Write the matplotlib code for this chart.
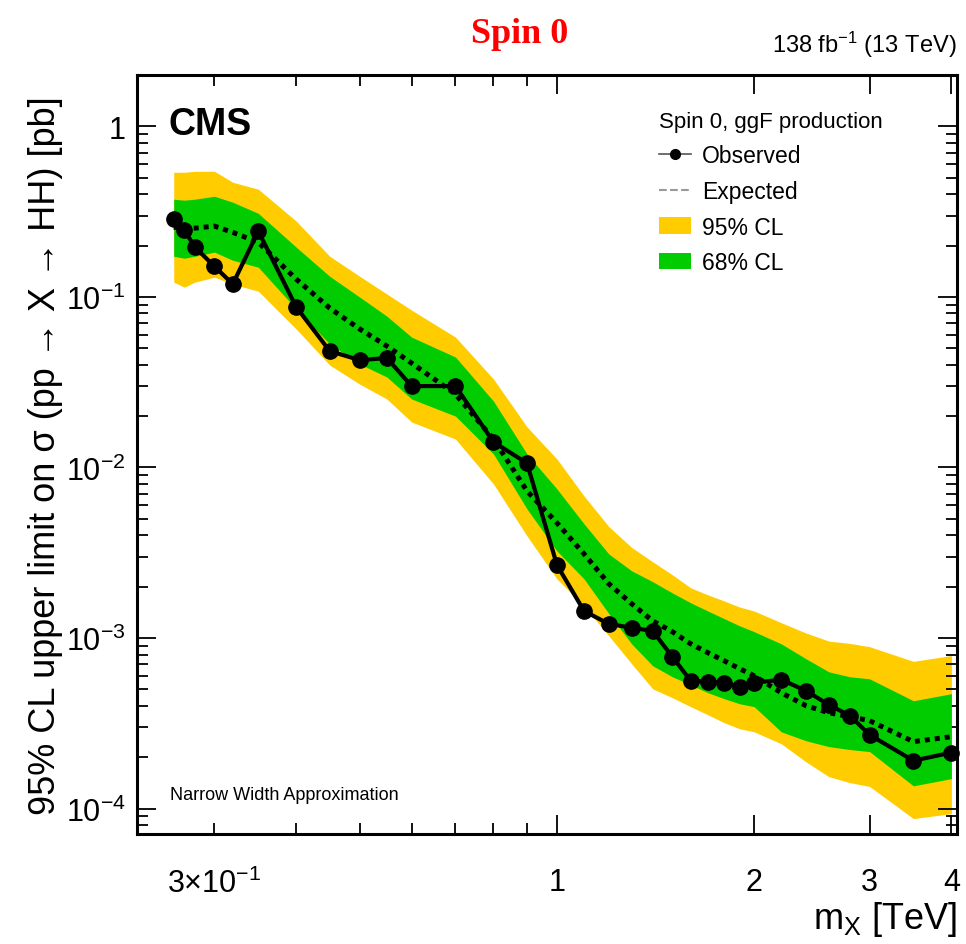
import numpy as np
import matplotlib
matplotlib.use("Agg")
import matplotlib.pyplot as plt
from matplotlib.lines import Line2D
from matplotlib.patches import Patch
from matplotlib.ticker import FixedLocator, FixedFormatter, LogLocator, NullFormatter

plt.rcParams['font.family'] = ['Liberation Sans', 'DejaVu Sans']
plt.rcParams['mathtext.fontset'] = 'custom'
plt.rcParams['mathtext.rm'] = 'Liberation Sans'
plt.rcParams['mathtext.it'] = 'Liberation Sans:italic'

# resonance masses [TeV]
mass = [0.26, 0.27, 0.28, 0.30, 0.32, 0.35, 0.40, 0.45, 0.50, 0.55, 0.60, 0.70,
        0.80, 0.90, 1.0, 1.1, 1.2, 1.3, 1.4, 1.5, 1.6, 1.7, 1.8, 1.9, 2.0,
        2.2, 2.4, 2.6, 2.8, 3.0, 3.5, 4.0]

# limits [pb]
observed = [0.285, 0.246, 0.196, 0.151, 0.119, 0.243, 0.0871, 0.0481, 0.0426, 0.0438,
            0.0300, 0.0300, 0.0141, 0.0106, 0.00268, 0.00144, 0.00121, 0.00115, 0.00110,
            0.000776, 0.000562, 0.000555, 0.000547, 0.000518, 0.000547, 0.000570,
            0.000491, 0.000406, 0.000351, 0.000271, 0.000191, 0.000213]
expected = [0.256, 0.253, 0.253, 0.260, 0.239, 0.209, 0.127, 0.0859, 0.0648, 0.0515,
            0.0409, 0.0269, 0.01468, 0.00728, 0.00473, 0.00311, 0.00208, 0.00159, 0.00126,
            0.00109, 0.000925, 0.000820, 0.000736, 0.000661, 0.000601, 0.000478,
            0.000401, 0.000365, 0.000346, 0.000328, 0.000247, 0.000264]
up1 = [0.374, 0.369, 0.374, 0.389, 0.359, 0.309, 0.1956, 0.132, 0.0997, 0.0771,
       0.0581, 0.0444, 0.0245, 0.0120, 0.00748, 0.00467, 0.00311, 0.00248, 0.00214,
       0.00184, 0.00161, 0.00144, 0.00130, 0.00118, 0.00109, 0.000925, 0.000756,
       0.000634, 0.000593, 0.000577, 0.000429, 0.000472]
down1 = [0.173, 0.1686, 0.173, 0.183, 0.164, 0.1493, 0.0848, 0.0529, 0.0404, 0.0339,
         0.0252, 0.0200, 0.0120, 0.00571, 0.00324, 0.00222, 0.00139, 0.000925, 0.000688,
         0.000593, 0.000532, 0.000478, 0.000441, 0.000412, 0.000396, 0.000282,
         0.000250, 0.000231, 0.000222, 0.000216, 0.000136, 0.000150]
up2 = [0.538, 0.538, 0.545, 0.545, 0.470, 0.428, 0.278, 0.173, 0.132, 0.104,
       0.0836, 0.0581, 0.0330, 0.0173, 0.0112, 0.0068, 0.0045, 0.0034, 0.0028,
       0.00235, 0.00197, 0.00179, 0.00165, 0.00152, 0.00144, 0.00123, 0.00107,
       0.00096, 0.00093, 0.00089, 0.00073, 0.00079]
down2 = [0.122, 0.114, 0.122, 0.1305, 0.1188, 0.108, 0.0648, 0.0398, 0.0308, 0.0252,
         0.01847, 0.01468, 0.00800, 0.00397, 0.00222, 0.00154, 0.00103, 0.000707,
         0.000504, 0.000447, 0.000396, 0.000355, 0.000319, 0.000294, 0.000282,
         0.000240, 0.000188, 0.000154, 0.000142, 0.000135, 0.0000874, 0.0000935]

xticks = [0.3, 1, 2, 3, 4]
xticklabels = [r'$3{\times}10^{-1}$', '1', '2', '3', '4']
yticks = [1e-4, 1e-3, 1e-2, 1e-1, 1]
yticklabels = [r'$10^{-4}$', r'$10^{-3}$', r'$10^{-2}$', r'$10^{-1}$', '1']

yellow = '#FFCC00'
green = '#00CC00'

fig = plt.figure(figsize=(9.66, 9.45), dpi=100)
ax = fig.add_axes([0.1418, 0.1164, 0.8489, 0.8032])

ax.fill_between(mass, down2, up2, color=yellow, lw=0, zorder=1)
ax.fill_between(mass, down1, up1, color=green, lw=0, zorder=2)
ax.plot(mass, expected, color='black', ls=(0, (1, 1)), lw=3.6, zorder=3)
ax.plot(mass, observed, color='black', lw=3.0, marker='o', ms=11, zorder=4, clip_on=False)

ax.set_xscale('log')
ax.set_yscale('log')
ax.set_xlim(0.2285, 4.08)
ax.set_ylim(7.1e-5, 2.0)

ax.xaxis.set_major_locator(FixedLocator(xticks))
ax.xaxis.set_major_formatter(FixedFormatter(xticklabels))
ax.xaxis.set_minor_locator(LogLocator(base=10, subs=np.arange(2, 10)))
ax.xaxis.set_minor_formatter(NullFormatter())
ax.yaxis.set_major_locator(FixedLocator(yticks))
ax.yaxis.set_major_formatter(FixedFormatter(yticklabels))
ax.yaxis.set_minor_locator(LogLocator(base=10, subs=np.arange(2, 10)))
ax.yaxis.set_minor_formatter(NullFormatter())

ax.tick_params(which='both', direction='in', top=True, right=True, width=1.3)
ax.tick_params(which='major', length=14, labelsize=22)
ax.tick_params(which='minor', length=8)
ax.tick_params(axis='x', which='major', pad=24)
ax.tick_params(axis='y', which='major', pad=8)
# the 0.3 tick is drawn short like the minor ones
ax.xaxis.get_major_ticks()[0].tick1line.set_markersize(8)
ax.xaxis.get_major_ticks()[0].tick2line.set_markersize(8)
for s in ax.spines.values():
    s.set_linewidth(2.2)

ax.set_xlabel(r'm$_{\rm X}$ [TeV]', fontsize=26, loc='right', labelpad=0)
ax.set_ylabel('95% CL upper limit on σ (pp → X → HH) [pb]',
              fontsize=26, loc='center', labelpad=2)

ax.text(0.038, 0.935, 'CMS', transform=ax.transAxes, fontsize=27, fontweight='bold',
        va='center', ha='left')
ax.text(0.04, 0.052, 'Narrow Width Approximation', transform=ax.transAxes,
        fontsize=13, va='center', ha='left')
fig.text(0.9907, 0.952, r'138 fb$^{-1}$ (13 TeV)', fontsize=17, ha='right', va='center')
fig.text(0.538, 0.964, 'Spin 0', color='#FF0000', fontsize=26, fontweight='bold',
         family='Liberation Serif', ha='center', va='center')

handles = [
    Line2D([], [], color='#555555', lw=1.2, marker='o', ms=7, mfc='black', mec='black'),
    Line2D([], [], color='#999999', lw=1.5, ls='--'),
    Patch(facecolor=yellow, edgecolor='none'),
    Patch(facecolor=green, edgecolor='none'),
]
labels = ['Observed', 'Expected', '95% CL', '68% CL']
leg = ax.legend(handles, labels, title='Spin 0, ggF production', loc='upper left',
                bbox_to_anchor=(0.625, 0.965), frameon=False, fontsize=16.5,
                title_fontsize=16, alignment='left', handlelength=1.4,
                handletextpad=0.5, labelspacing=0.55, borderaxespad=0)

fig.savefig('out.png', dpi=100)
